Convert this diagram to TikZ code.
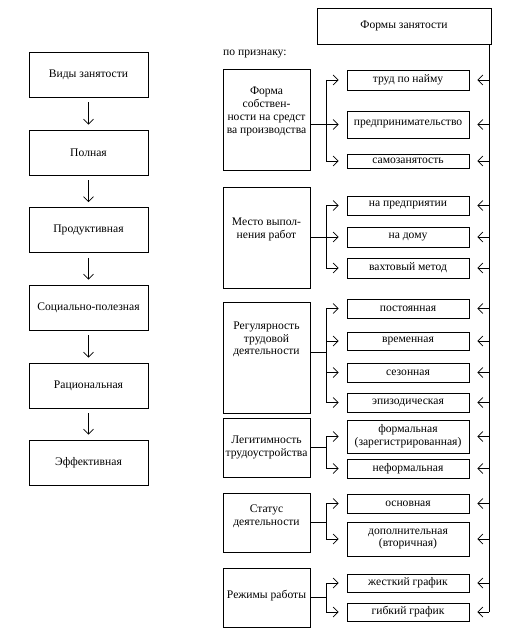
\documentclass[tikz,border=0pt]{standalone}
\usepackage{fontspec}
\setmainfont{Liberation Serif}
\usetikzlibrary{arrows.meta,calc}
\begin{document}
\begin{tikzpicture}[x=1pt,y=-1pt,
  every node/.style={font=\fontsize{11.6}{12.8}\selectfont, inner sep=0pt},
  box/.style={draw, line width=0.8pt, rectangle, align=center},
  leftbox/.style={box, minimum width=119pt, minimum height=45pt},
  catbox/.style={box, minimum width=87pt},
  itembox/.style={box, minimum width=122pt},
  txt/.style={align=center},
  conn/.style={line width=0.7pt},
  arr/.style={conn, -{Straight Barb[length=5pt,width=10pt,line width=0.7pt]}}
]
\useasboundingbox (0,0) rectangle (514,636);

% left column
\node[leftbox] (v0) at (88.5,74.5) {Виды занятости};
\node[leftbox] (v1) at (88.5,152.5) {Полная};
\node[leftbox] (v2) at (88.5,230) {Продуктивная};
\node[leftbox] (v3) at (88.5,307.5) {Социально-полезная};
\node[leftbox] (v4) at (88.5,385.5) {Рациональная};
\node[leftbox] (v5) at (88.5,462.5) {Эффективная};
\foreach \a/\b in {v0/v1,v1/v2,v2/v3,v3/v4,v4/v5}
  \draw[arr, shorten <=5pt, shorten >=5pt] (\a.south) -- (\b.north);

% top box
\node[box, minimum width=174pt, minimum height=36pt] (forms) at (404,26) {Формы занятости};
\node[anchor=west] (pp) at (223,54) {по признаку:};

% category boxes
\node[catbox, minimum height=101pt] (c1) at (266.5,119.5) {};
\node[txt] (c1t) at (266.5,111.5) {Форма\\собствен-\\ности на средст\\ва производства};
\node[catbox, minimum height=101pt] (c2) at (266.5,237.5) {};
\node[txt] (c2t) at (266.5,229.5) {Место выпол-\\нения работ};
\node[catbox, minimum height=111pt] (c3) at (266.5,357.5) {};
\node[txt] (c3t) at (266.5,339.5) {Регулярность\\трудовой\\деятельности};
\node[catbox, minimum height=59pt] (c4) at (266.5,447.5) {};
\node[txt] (c4t) at (266.5,447.5) {Легитимность\\трудоустройства};
\node[catbox, minimum height=59pt] (c5) at (266.5,522.5) {};
\node[txt] (c5t) at (266.5,516.5) {Статус\\деятельности};
\node[catbox, minimum height=59pt] (c6) at (266.5,597.5) {};
\node[txt] (c6t) at (266.5,595.5) {Режимы работы};

% item boxes
\node[itembox, minimum height=20pt] (i11) at (408,80) {труд по найму};
\node[itembox, minimum height=27pt] (i12) at (408,124.5) {предпринимательство};
\node[itembox, minimum height=14pt] (i13) at (408,161) {самозанятость};
\node[itembox, minimum height=19pt] (i21) at (408,205.5) {на предприятии};
\node[itembox, minimum height=20pt] (i22) at (408,237) {на дому};
\node[itembox, minimum height=20pt] (i23) at (408,268) {вахтовый метод};
\node[itembox, minimum height=19pt] (i31) at (408,308.5) {постоянная};
\node[itembox, minimum height=18pt] (i32) at (408,341) {временная};
\node[itembox, minimum height=19pt] (i33) at (408,372.5) {сезонная};
\node[itembox, minimum height=19pt] (i34) at (408,402.5) {эпизодическая};
\node[itembox, minimum height=33pt] (i41) at (408,436.5) {формальная\\(зарегистрированная)};
\node[itembox, minimum height=19pt] (i42) at (408,468.5) {неформальная};
\node[itembox, minimum height=19pt] (i51) at (408,503.5) {основная};
\node[itembox, minimum height=34pt] (i52) at (408,539) {дополнительная\\(вторичная)};
\node[itembox, minimum height=18pt] (i61) at (408,583) {жесткий график};
\node[itembox, minimum height=18pt] (i62) at (408,612) {гибкий график};

% branch coordinates
\coordinate (bx) at (326,0);
\coordinate (mx) at (489,0);

% category connectors
\draw[conn] (c1.east |- i12) -- (bx |- i12);
\draw[conn] (bx |- i11) -- (bx |- i13);
\foreach \i in {i11,i12,i13} \draw[arr, shorten >=8pt] (bx |- \i) -- (\i.west);

\draw[conn] (c2.east) -- (bx |- c2);
\draw[conn] (bx |- i21) -- (bx |- i23);
\foreach \i in {i21,i22,i23} \draw[arr, shorten >=8pt] (bx |- \i) -- (\i.west);

\coordinate (c3c) at ($(c3.east)+(0,-5.5)$);
\draw[conn] (c3c) -- (bx |- c3c);
\draw[conn] (bx |- i31) -- (bx |- i34);
\foreach \i in {i31,i32,i33,i34} \draw[arr, shorten >=8pt] (bx |- \i) -- (\i.west);

\draw[conn] (c4.east) -- (bx |- c4);
\draw[conn] (bx |- i41) -- (bx |- i42);
\foreach \i in {i41,i42} \draw[arr, shorten >=8pt] (bx |- \i) -- (\i.west);

\draw[conn] (c5.east) -- (bx |- c5);
\draw[conn] (bx |- i51) -- (bx |- i52);
\foreach \i in {i51,i52} \draw[arr, shorten >=8pt] (bx |- \i) -- (\i.west);

\draw[conn] (c6.east) -- (bx |- c6);
\draw[conn] (bx |- i61) -- (bx |- i62);
\foreach \i in {i61,i62} \draw[arr, shorten >=8pt] (bx |- \i) -- (\i.west);

% main line
\draw[conn] (forms.south -| mx) -- (mx |- i62);
\foreach \i in {i11,i12,i13,i21,i22,i23,i31,i32,i33,i34,i41,i42,i51,i52,i61,i62}
  \draw[arr, shorten >=8pt] (mx |- \i) -- (\i.east);
\end{tikzpicture}
\end{document}
